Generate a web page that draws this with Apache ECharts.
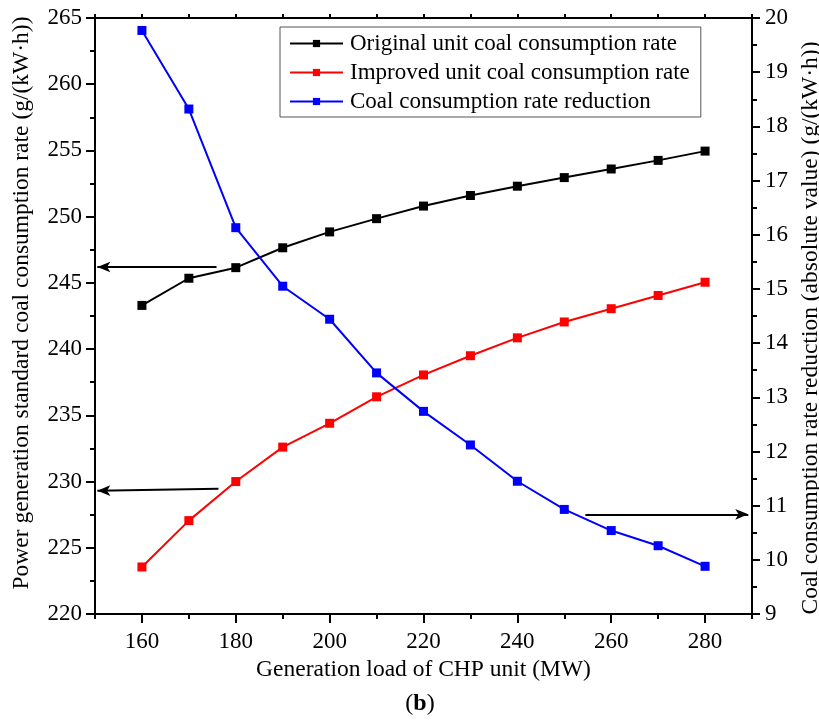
<!DOCTYPE html>
<html><head><meta charset="utf-8">
<script src="https://cdn.jsdelivr.net/npm/echarts@6/dist/echarts.min.js"></script>
<style>html,body{margin:0;padding:0;background:#fff}#c{width:819px;height:727px}</style>
</head><body><div id="c"></div>
<script>
const loads = [160,170,180,190,200,210,220,230,240,250,260,270,280];
const originalRate = [243.3,245.35,246.15,247.65,248.85,249.85,250.8,251.6,252.3,252.95,253.6,254.25,254.95];
const improvedRate = [223.55,227.05,230.0,232.6,234.4,236.4,238.05,239.5,240.85,242.05,243.05,244.05,245.05];
const reduction = [19.77,18.32,16.13,15.05,14.44,13.45,12.74,12.12,11.45,10.93,10.54,10.26,9.88];
const xRange = {min:150, max:290, minorStep:10};
const xLabelTicks = [160,180,200,220,240,260,280];
const yLeftTicks = {min:220, max:265, step:5};
const yRightTicks = {min:9, max:20, step:1};
// annotation arrows in data coordinates [x, y]
const arrowLeft1 = [[175.9,246.2],[150.5,246.2]];
const arrowLeft2 = [[176.3,229.45],[150.5,229.3]];
const arrowRight = [[254.5,10.84],[289.2,10.84]];

const FONT = '"Liberation Serif","Times New Roman",serif';
const chart = echarts.init(document.getElementById('c'));
const axisLine = {show:true, lineStyle:{color:'#000', width:2}};
const pair = (a) => a.map((v,i)=>[loads[i], v]);
const arrowML = (pts) => ({
  silent:true, symbol:['none','arrow'], symbolSize:[8,13],
  label:{show:false},
  lineStyle:{color:'#000', width:2, type:'solid'},
  data:[[{coord:pts[0]},{coord:pts[1]}]]
});
chart.setOption({
  animation:false,
  textStyle:{fontFamily:FONT},
  grid:{left:95, right:67, top:18, bottom:113, outerBoundsMode:'none', containLabel:false},
  legend:{
    left:280, top:27, orient:'vertical',
    borderColor:'#555', borderWidth:1, padding:[5,11,4,9],
    itemWidth:53, itemHeight:9, itemGap:6,
    textStyle:{fontFamily:FONT, fontSize:23, color:'#000', padding:[0,0,0,2]},
    data:['Original unit coal consumption rate','Improved unit coal consumption rate','Coal consumption rate reduction']
  },
  xAxis:[{
    type:'value', position:'bottom', min:xRange.min, max:xRange.max, interval:xRange.minorStep,
    axisLine, axisTick:{show:true, length:9, customValues:xLabelTicks, lineStyle:{color:'#000', width:2}},
    splitLine:{show:false},
    axisLabel:{fontFamily:FONT, fontSize:23, color:'#000', margin:16, customValues:xLabelTicks},
    name:'Generation load of CHP unit (MW)', nameLocation:'middle', nameGap:41,
    nameTextStyle:{fontFamily:FONT, fontSize:23.5, color:'#000'}
  },{
    type:'value', position:'top', min:xRange.min, max:xRange.max, interval:xRange.minorStep,
    axisLine, axisTick:{show:true, length:4, lineStyle:{color:'#000', width:2}},
    splitLine:{show:false}, axisLabel:{show:false}
  },{
    type:'value', position:'bottom', min:xRange.min, max:xRange.max, interval:xRange.minorStep,
    axisLine:{show:false}, axisTick:{show:true, length:5, lineStyle:{color:'#000', width:2}},
    splitLine:{show:false}, axisLabel:{show:false}
  }],
  yAxis:[{
    type:'value', position:'left', min:yLeftTicks.min, max:yLeftTicks.max, interval:yLeftTicks.step,
    axisLine, axisTick:{show:true, length:9, lineStyle:{color:'#000', width:2}},
    minorTick:{show:true, splitNumber:2, length:5, lineStyle:{color:'#000', width:2}},
    splitLine:{show:false}, minorSplitLine:{show:false},
    axisLabel:{fontFamily:FONT, fontSize:23, color:'#000', margin:13},
    name:'Power generation standard coal consumption rate (g/(kW·h))', nameLocation:'middle', nameGap:61,
    nameTextStyle:{fontFamily:FONT, fontSize:23.5, color:'#000', padding:[0,0,0,26]}
  },{
    type:'value', position:'right', min:yRightTicks.min, max:yRightTicks.max, interval:yRightTicks.step,
    axisLine, axisTick:{show:true, length:8, lineStyle:{color:'#000', width:2}},
    minorTick:{show:true, splitNumber:2, length:5, lineStyle:{color:'#000', width:2}},
    splitLine:{show:false}, minorSplitLine:{show:false},
    axisLabel:{fontFamily:FONT, fontSize:23, color:'#000', margin:13},
    name:'Coal consumption rate reduction (absolute value) (g/(kW·h))', nameLocation:'middle', nameGap:44,
    nameTextStyle:{fontFamily:FONT, fontSize:23.5, color:'#000', padding:[0,24,0,0]}
  }],
  series:[{
    name:'Original unit coal consumption rate', type:'line', xAxisIndex:0, yAxisIndex:0,
    data:pair(originalRate), symbol:'rect', symbolSize:9,
    itemStyle:{color:'#000'}, lineStyle:{color:'#000', width:2},
    markLine:arrowML(arrowLeft1)
  },{
    name:'Improved unit coal consumption rate', type:'line', xAxisIndex:0, yAxisIndex:0,
    data:pair(improvedRate), symbol:'rect', symbolSize:9,
    itemStyle:{color:'#ff0000'}, lineStyle:{color:'#ff0000', width:2},
    markLine:arrowML(arrowLeft2)
  },{
    name:'Coal consumption rate reduction', type:'line', xAxisIndex:0, yAxisIndex:1,
    data:pair(reduction), symbol:'rect', symbolSize:9,
    itemStyle:{color:'#0000ff'}, lineStyle:{color:'#0000ff', width:2},
    markLine:arrowML(arrowRight)
  }],
  graphic:[{
    type:'text', x:420, y:704,
    style:{
      text:'({b|b})', font:'24px '+FONT, fill:'#000', align:'center', verticalAlign:'middle',
      rich:{b:{fontWeight:'bold', fontFamily:FONT, fontSize:24, fill:'#000'}}
    }
  }]
});
</script></body></html>
